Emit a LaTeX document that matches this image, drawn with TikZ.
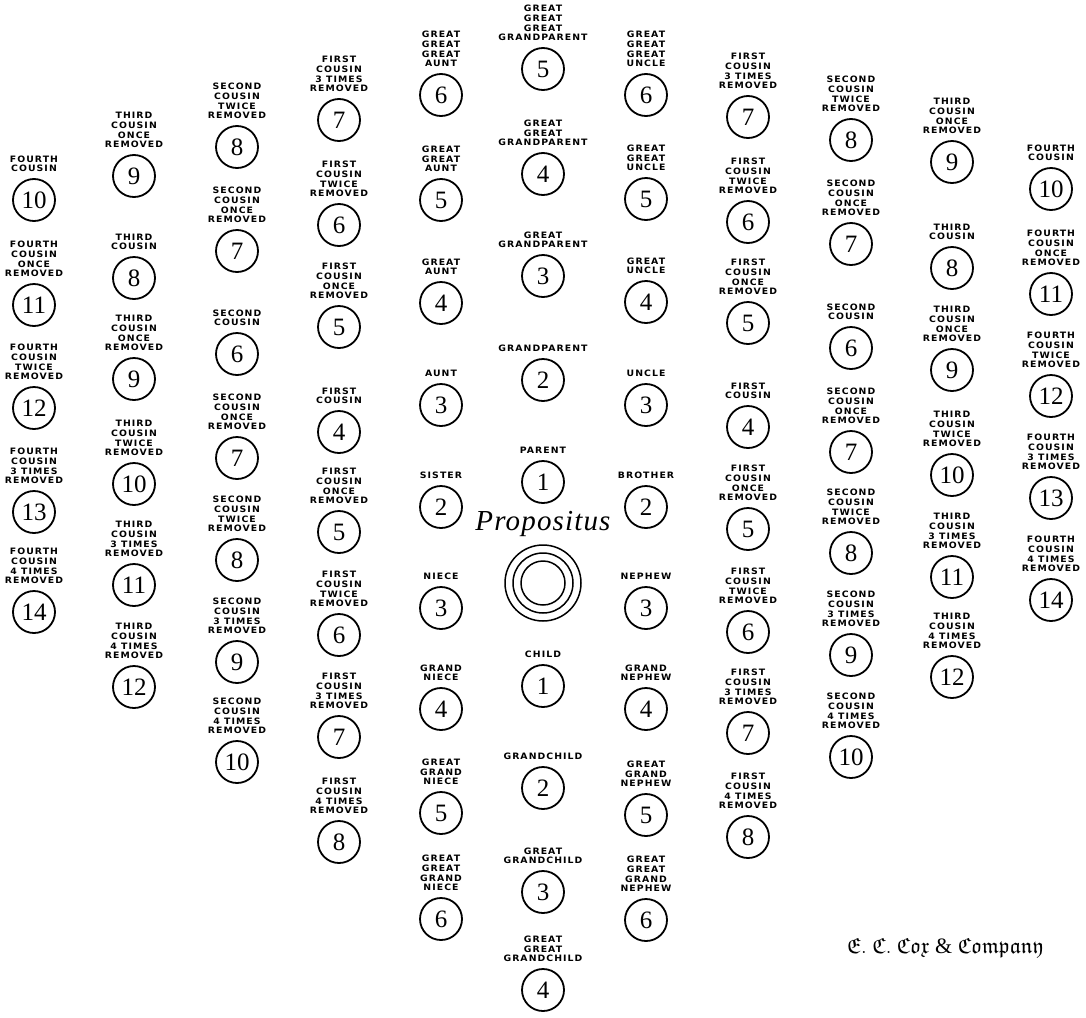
\documentclass[tikz,border=0pt]{standalone}
\usepackage{amssymb}
\usepackage{fontspec}
\setmainfont{Liberation Serif}
\newfontfamily\labfam{DejaVu Sans}[FakeStretch=1.06,LetterSpace=12]
\newfontfamily\numfam{Liberation Serif}
\newfontfamily\propfam{Liberation Serif}[LetterSpace=4]
\newcommand\kin[5]{%
  \node[circ] (#1) at (#2,#3) {#4};
  \node[lab] (#1l) at ([yshift=6pt]#1.north) {#5};}
\begin{document}
\begin{tikzpicture}[x=1pt,y=-1pt,
  circ/.style={circle,draw,line width=1.8pt,minimum size=42pt,inner sep=0pt,
    font=\numfam\fontsize{25}{25}\selectfont},
  lab/.style={align=center,anchor=south,inner sep=0pt,
    font=\labfam\bfseries\fontsize{8.8}{9.7}\selectfont},
  ring/.style={circle,draw,line width=1.5pt,inner sep=0pt}]
\useasboundingbox (0,0) rectangle (1086,1017);
% centre column
\kin{C5}{543}{69}{5}{GREAT\\GREAT\\GREAT\\GRANDPARENT}
\kin{C4}{543}{174}{4}{GREAT\\GREAT\\GRANDPARENT}
\kin{C3}{543}{276}{3}{GREAT\\GRANDPARENT}
\kin{C2}{543}{380}{2}{GRANDPARENT}
\kin{C1}{543}{482}{1}{PARENT}
\kin{D1}{543}{686}{1}{CHILD}
\kin{D2}{543}{788}{2}{GRANDCHILD}
\kin{D3}{543}{892}{3}{GREAT\\GRANDCHILD}
\kin{D4}{543}{990}{4}{GREAT\\GREAT\\GRANDCHILD}
\node[ring,minimum size=76pt] (propo) at (543,583) {};
\node[ring,minimum size=60pt] (propm) at (propo.center) {};
\node[ring,minimum size=44pt] (propi) at (propo.center) {};
\node (proptxt) at (543,524) {\propfam\itshape\fontsize{29}{29}\selectfont Propositus};
% left 0
\kin{La6}{441}{95}{6}{GREAT\\GREAT\\GREAT\\AUNT}
\kin{La5}{441}{200}{5}{GREAT\\GREAT\\AUNT}
\kin{La4}{441}{303}{4}{GREAT\\AUNT}
\kin{La3}{441}{405}{3}{AUNT}
\kin{La2}{441}{507}{2}{SISTER}
\kin{Lb3}{441}{608}{3}{NIECE}
\kin{Lb4}{441}{709}{4}{GRAND\\NIECE}
\kin{Lb5}{441}{813}{5}{GREAT\\GRAND\\NIECE}
\kin{Lb6}{441}{919}{6}{GREAT\\GREAT\\GRAND\\NIECE}
% right 0
\kin{Ra6}{646}{95}{6}{GREAT\\GREAT\\GREAT\\UNCLE}
\kin{Ra5}{646}{199}{5}{GREAT\\GREAT\\UNCLE}
\kin{Ra4}{646}{302}{4}{GREAT\\UNCLE}
\kin{Ra3}{646}{405}{3}{UNCLE}
\kin{Ra2}{646}{507}{2}{BROTHER}
\kin{Rb3}{646}{608}{3}{NEPHEW}
\kin{Rb4}{646}{709}{4}{GRAND\\NEPHEW}
\kin{Rb5}{646}{815}{5}{GREAT\\GRAND\\NEPHEW}
\kin{Rb6}{646}{920}{6}{GREAT\\GREAT\\GRAND\\NEPHEW}
% left 1
\kin{Ma7}{339}{120}{7}{FIRST\\COUSIN\\3 TIMES\\REMOVED}
\kin{Ma6}{339}{225}{6}{FIRST\\COUSIN\\TWICE\\REMOVED}
\kin{Ma5}{339}{327}{5}{FIRST\\COUSIN\\ONCE\\REMOVED}
\kin{Ma4}{339}{432}{4}{FIRST\\COUSIN}
\kin{Mb5}{339}{532}{5}{FIRST\\COUSIN\\ONCE\\REMOVED}
\kin{Mb6}{339}{635}{6}{FIRST\\COUSIN\\TWICE\\REMOVED}
\kin{Mb7}{339}{737}{7}{FIRST\\COUSIN\\3 TIMES\\REMOVED}
\kin{Mb8}{339}{842}{8}{FIRST\\COUSIN\\4 TIMES\\REMOVED}
% right 1
\kin{Na7}{748}{117}{7}{FIRST\\COUSIN\\3 TIMES\\REMOVED}
\kin{Na6}{748}{222}{6}{FIRST\\COUSIN\\TWICE\\REMOVED}
\kin{Na5}{748}{323}{5}{FIRST\\COUSIN\\ONCE\\REMOVED}
\kin{Na4}{748}{427}{4}{FIRST\\COUSIN}
\kin{Nb5}{748}{529}{5}{FIRST\\COUSIN\\ONCE\\REMOVED}
\kin{Nb6}{748}{632}{6}{FIRST\\COUSIN\\TWICE\\REMOVED}
\kin{Nb7}{748}{733}{7}{FIRST\\COUSIN\\3 TIMES\\REMOVED}
\kin{Nb8}{748}{837}{8}{FIRST\\COUSIN\\4 TIMES\\REMOVED}
% left 2
\kin{Pa8}{237}{147}{8}{SECOND\\COUSIN\\TWICE\\REMOVED}
\kin{Pa7}{237}{251}{7}{SECOND\\COUSIN\\ONCE\\REMOVED}
\kin{Pa6}{237}{354}{6}{SECOND\\COUSIN}
\kin{Pb7}{237}{458}{7}{SECOND\\COUSIN\\ONCE\\REMOVED}
\kin{Pb8}{237}{560}{8}{SECOND\\COUSIN\\TWICE\\REMOVED}
\kin{Pb9}{237}{662}{9}{SECOND\\COUSIN\\3 TIMES\\REMOVED}
\kin{Pb10}{237}{762}{10}{SECOND\\COUSIN\\4 TIMES\\REMOVED}
% right 2
\kin{Qa8}{851}{140}{8}{SECOND\\COUSIN\\TWICE\\REMOVED}
\kin{Qa7}{851}{244}{7}{SECOND\\COUSIN\\ONCE\\REMOVED}
\kin{Qa6}{851}{348}{6}{SECOND\\COUSIN}
\kin{Qb7}{851}{452}{7}{SECOND\\COUSIN\\ONCE\\REMOVED}
\kin{Qb8}{851}{553}{8}{SECOND\\COUSIN\\TWICE\\REMOVED}
\kin{Qb9}{851}{655}{9}{SECOND\\COUSIN\\3 TIMES\\REMOVED}
\kin{Qb10}{851}{757}{10}{SECOND\\COUSIN\\4 TIMES\\REMOVED}
% left 3
\kin{Sa9}{134}{176}{9}{THIRD\\COUSIN\\ONCE\\REMOVED}
\kin{Sa8}{134}{278}{8}{THIRD\\COUSIN}
\kin{Sb9}{134}{379}{9}{THIRD\\COUSIN\\ONCE\\REMOVED}
\kin{Sb10}{134}{484}{10}{THIRD\\COUSIN\\TWICE\\REMOVED}
\kin{Sb11}{134}{585}{11}{THIRD\\COUSIN\\3 TIMES\\REMOVED}
\kin{Sb12}{134}{687}{12}{THIRD\\COUSIN\\4 TIMES\\REMOVED}
% right 3
\kin{Ta9}{952}{162}{9}{THIRD\\COUSIN\\ONCE\\REMOVED}
\kin{Ta8}{952}{268}{8}{THIRD\\COUSIN}
\kin{Tb9}{952}{370}{9}{THIRD\\COUSIN\\ONCE\\REMOVED}
\kin{Tb10}{952}{475}{10}{THIRD\\COUSIN\\TWICE\\REMOVED}
\kin{Tb11}{952}{577}{11}{THIRD\\COUSIN\\3 TIMES\\REMOVED}
\kin{Tb12}{952}{677}{12}{THIRD\\COUSIN\\4 TIMES\\REMOVED}
% left 4
\kin{Ua10}{34}{200}{10}{FOURTH\\COUSIN}
\kin{Ub11}{34}{305}{11}{FOURTH\\COUSIN\\ONCE\\REMOVED}
\kin{Ub12}{34}{408}{12}{FOURTH\\COUSIN\\TWICE\\REMOVED}
\kin{Ub13}{34}{512}{13}{FOURTH\\COUSIN\\3 TIMES\\REMOVED}
\kin{Ub14}{34}{612}{14}{FOURTH\\COUSIN\\4 TIMES\\REMOVED}
% right 4
\kin{Va10}{1051}{189}{10}{FOURTH\\COUSIN}
\kin{Vb11}{1051}{294}{11}{FOURTH\\COUSIN\\ONCE\\REMOVED}
\kin{Vb12}{1051}{396}{12}{FOURTH\\COUSIN\\TWICE\\REMOVED}
\kin{Vb13}{1051}{498}{13}{FOURTH\\COUSIN\\3 TIMES\\REMOVED}
\kin{Vb14}{1051}{600}{14}{FOURTH\\COUSIN\\4 TIMES\\REMOVED}
% publisher
\node (cox) at (945,948) {\fontsize{22}{26}\selectfont $\mathfrak{E}.\ \mathfrak{C}.\ \mathfrak{Cox}$ \& $\mathfrak{Company}$};
\end{tikzpicture}
\end{document}
